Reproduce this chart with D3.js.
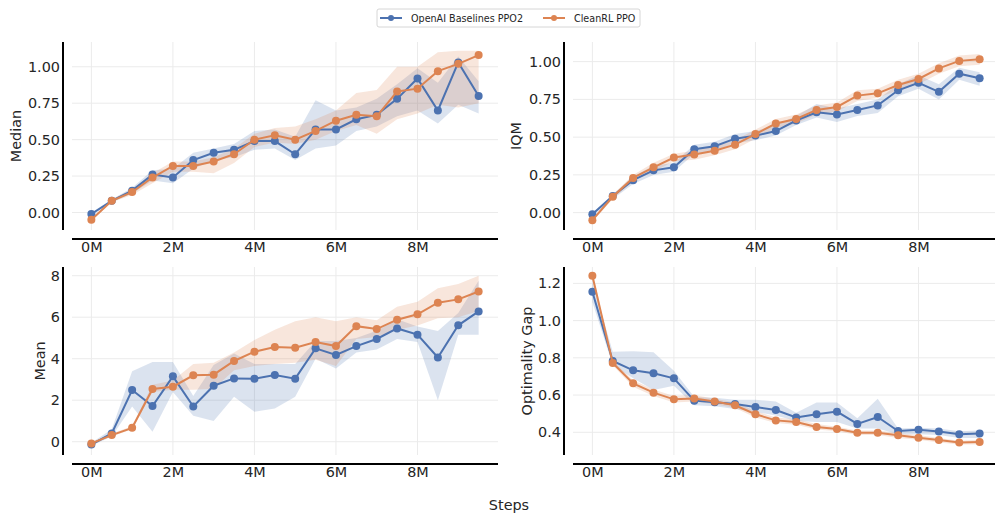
<!DOCTYPE html>
<html>
<head>
<meta charset="utf-8">
<script src="https://cdn.jsdelivr.net/npm/d3@7"></script>
<style>
  body { margin: 0; background: #fff; }
  svg { font-family: "DejaVu Sans", sans-serif; }
</style>
</head>
<body>
<div id="container"></div>
<script>
// steps in millions
const steps = [0, 0.5, 1, 1.5, 2, 2.5, 3, 3.5, 4, 4.5, 5, 5.5, 6, 6.5, 7, 7.5, 8, 8.5, 9, 9.5];
const seriesNames = ["OpenAI Baselines PPO2", "CleanRL PPO"];
const xTicks = [0, 2, 4, 6, 8];

// Median
const medianPPO2   = [-0.01, 0.08, 0.15, 0.26, 0.24, 0.36, 0.41, 0.43, 0.49, 0.49, 0.40, 0.57, 0.57, 0.64, 0.67, 0.78, 0.92, 0.70, 1.03, 0.80];
const medianPPO2Lo = [-0.02, 0.07, 0.13, 0.22, 0.20, 0.30, 0.36, 0.38, 0.43, 0.44, 0.36, 0.44, 0.46, 0.56, 0.59, 0.66, 0.70, 0.61, 0.74, 0.68];
const medianPPO2Hi = [0.00, 0.09, 0.17, 0.29, 0.30, 0.41, 0.44, 0.47, 0.56, 0.57, 0.52, 0.77, 0.70, 0.72, 0.78, 0.88, 0.99, 0.89, 1.07, 0.90];
const medianClean   = [-0.05, 0.08, 0.14, 0.24, 0.32, 0.32, 0.35, 0.40, 0.50, 0.53, 0.50, 0.56, 0.63, 0.67, 0.66, 0.83, 0.85, 0.97, 1.02, 1.08];
const medianCleanLo = [-0.06, 0.07, 0.12, 0.20, 0.28, 0.28, 0.27, 0.34, 0.45, 0.48, 0.47, 0.50, 0.56, 0.60, 0.54, 0.64, 0.68, 0.74, 0.72, 0.75];
const medianCleanHi = [-0.04, 0.09, 0.16, 0.27, 0.35, 0.35, 0.38, 0.44, 0.54, 0.58, 0.59, 0.64, 0.70, 0.82, 0.84, 1.00, 1.00, 1.10, 1.11, 1.11];

// IQM
const iqmPPO2   = [-0.01, 0.11, 0.215, 0.28, 0.30, 0.42, 0.44, 0.49, 0.51, 0.54, 0.61, 0.665, 0.65, 0.68, 0.71, 0.81, 0.86, 0.80, 0.92, 0.89];
const iqmPPO2Lo = [-0.02, 0.09, 0.19, 0.25, 0.27, 0.39, 0.41, 0.46, 0.48, 0.51, 0.58, 0.63, 0.60, 0.64, 0.66, 0.77, 0.82, 0.75, 0.88, 0.84];
const iqmPPO2Hi = [0.00, 0.12, 0.24, 0.31, 0.33, 0.45, 0.47, 0.52, 0.54, 0.58, 0.64, 0.72, 0.69, 0.72, 0.75, 0.85, 0.91, 0.85, 0.96, 0.93];
const iqmClean   = [-0.05, 0.105, 0.23, 0.30, 0.365, 0.385, 0.41, 0.45, 0.52, 0.59, 0.62, 0.68, 0.70, 0.775, 0.79, 0.845, 0.885, 0.955, 1.005, 1.015];
const iqmCleanLo = [-0.06, 0.09, 0.21, 0.27, 0.34, 0.35, 0.38, 0.42, 0.49, 0.56, 0.59, 0.65, 0.67, 0.74, 0.76, 0.81, 0.85, 0.92, 0.97, 0.98];
const iqmCleanHi = [-0.04, 0.12, 0.25, 0.33, 0.39, 0.41, 0.44, 0.48, 0.55, 0.62, 0.65, 0.71, 0.73, 0.81, 0.82, 0.88, 0.92, 0.99, 1.04, 1.05];

// Mean
const meanPPO2   = [-0.14, 0.40, 2.49, 1.72, 3.15, 1.70, 2.70, 3.05, 3.04, 3.21, 3.04, 4.50, 4.18, 4.61, 4.95, 5.46, 5.16, 4.06, 5.61, 6.28];
const meanPPO2Lo = [-0.20, 0.25, 1.70, 0.48, 2.40, 1.25, 1.00, 2.17, 1.45, 1.60, 2.17, 4.00, 3.53, 4.30, 4.45, 4.95, 4.80, 2.00, 5.15, 5.15];
const meanPPO2Hi = [-0.05, 0.60, 3.40, 3.84, 3.84, 2.20, 3.70, 4.25, 3.75, 3.75, 3.75, 4.85, 4.85, 5.00, 5.35, 5.90, 5.55, 5.33, 6.20, 7.76];
const meanClean   = [-0.08, 0.32, 0.67, 2.54, 2.65, 3.20, 3.23, 3.89, 4.34, 4.56, 4.53, 4.80, 4.61, 5.57, 5.43, 5.88, 6.14, 6.70, 6.86, 7.24];
const meanCleanLo = [-0.12, 0.25, 0.60, 2.40, 2.50, 2.50, 2.55, 3.45, 3.65, 3.75, 3.80, 3.95, 3.65, 4.95, 5.05, 5.40, 5.60, 5.95, 6.00, 6.30];
const meanCleanHi = [-0.04, 0.40, 0.75, 2.75, 2.95, 3.74, 3.80, 4.30, 4.90, 5.40, 5.80, 6.00, 5.80, 6.00, 5.85, 6.50, 6.75, 7.40, 7.60, 8.00];

// Optimality Gap
const gapPPO2   = [1.155, 0.783, 0.733, 0.717, 0.690, 0.570, 0.561, 0.552, 0.536, 0.520, 0.480, 0.497, 0.511, 0.445, 0.482, 0.407, 0.413, 0.404, 0.389, 0.393];
const gapPPO2Lo = [1.10, 0.76, 0.69, 0.627, 0.65, 0.545, 0.54, 0.525, 0.51, 0.49, 0.46, 0.455, 0.455, 0.42, 0.42, 0.39, 0.39, 0.385, 0.37, 0.37];
const gapPPO2Hi = [1.21, 0.833, 0.835, 0.83, 0.73, 0.59, 0.585, 0.575, 0.575, 0.565, 0.505, 0.56, 0.56, 0.475, 0.58, 0.42, 0.425, 0.42, 0.405, 0.41];
const gapClean   = [1.241, 0.772, 0.663, 0.613, 0.577, 0.581, 0.565, 0.545, 0.497, 0.464, 0.455, 0.429, 0.418, 0.398, 0.398, 0.384, 0.371, 0.359, 0.345, 0.348];
const gapCleanLo = [1.22, 0.76, 0.645, 0.595, 0.56, 0.565, 0.55, 0.53, 0.48, 0.45, 0.44, 0.415, 0.405, 0.385, 0.385, 0.37, 0.36, 0.345, 0.335, 0.335];
const gapCleanHi = [1.26, 0.785, 0.68, 0.63, 0.595, 0.60, 0.58, 0.56, 0.515, 0.48, 0.47, 0.445, 0.43, 0.41, 0.41, 0.395, 0.385, 0.37, 0.355, 0.36];

const colors = ["#4c72b0", "#dd8452"];

const panels = [
  { label: "Median", left: 72, top: 42, domain: [-0.12, 1.17], ticks: [0, 0.25, 0.5, 0.75, 1.0], fmt: ".2f", labelX: 16,
    series: [[medianPPO2, medianPPO2Lo, medianPPO2Hi], [medianClean, medianCleanLo, medianCleanHi]] },
  { label: "IQM", left: 573, top: 42, domain: [-0.115, 1.13], ticks: [0, 0.25, 0.5, 0.75, 1.0], fmt: ".2f", labelX: 516,
    series: [[iqmPPO2, iqmPPO2Lo, iqmPPO2Hi], [iqmClean, iqmCleanLo, iqmCleanHi]] },
  { label: "Mean", left: 72, top: 267, domain: [-0.64, 8.42], ticks: [0, 2, 4, 6, 8], fmt: "d", labelX: 40,
    series: [[meanPPO2, meanPPO2Lo, meanPPO2Hi], [meanClean, meanCleanLo, meanCleanHi]] },
  { label: "Optimality Gap", left: 573, top: 267, domain: [0.278, 1.288], ticks: [0.4, 0.6, 0.8, 1.0, 1.2], fmt: ".1f", labelX: 527,
    series: [[gapPPO2, gapPPO2Lo, gapPPO2Hi], [gapClean, gapCleanLo, gapCleanHi]] }
];

const W = 995, H = 519;
const pw = 426, ph = 188, off = 9; // plot size, spine offset
const fs = 14.4;

const svg = d3.select("#container").append("svg").attr("width", W).attr("height", H);

panels.forEach(p => {
  const g = svg.append("g").attr("transform", `translate(${p.left}, ${p.top})`);
  const x = d3.scaleLinear().domain([-0.475, 9.975]).range([0, pw]);
  const y = d3.scaleLinear().domain(p.domain).range([ph, 0]);

  // grid
  g.append("g").selectAll("line").data(xTicks).enter().append("line")
    .attr("x1", d => x(d)).attr("x2", d => x(d)).attr("y1", 0).attr("y2", ph)
    .attr("stroke", "#ebebeb").attr("stroke-width", 1);
  g.append("g").selectAll("line").data(p.ticks).enter().append("line")
    .attr("x1", 0).attr("x2", pw).attr("y1", d => y(d)).attr("y2", d => y(d))
    .attr("stroke", "#ebebeb").attr("stroke-width", 1);

  // bands
  p.series.forEach((s, i) => {
    const rows = steps.map((st, k) => [st, s[1][k], s[2][k]]);
    const area = d3.area().x(d => x(d[0])).y0(d => y(d[1])).y1(d => y(d[2]));
    g.append("path").datum(rows).attr("d", area).attr("fill", colors[i]).attr("fill-opacity", 0.2);
  });

  // lines and markers
  p.series.forEach((s, i) => {
    const rows = steps.map((st, k) => [st, s[0][k]]);
    const line = d3.line().x(d => x(d[0])).y(d => y(d[1]));
    g.append("path").datum(rows).attr("d", line).attr("fill", "none")
      .attr("stroke", colors[i]).attr("stroke-width", 2);
    g.append("g").selectAll("circle").data(rows).enter().append("circle")
      .attr("cx", d => x(d[0])).attr("cy", d => y(d[1])).attr("r", 4).attr("fill", colors[i]);
  });

  // axes (offset spines)
  const xAxis = d3.axisBottom(x).tickValues(xTicks).tickFormat(d => d + "M").tickSize(0).tickPadding(3);
  const xg = g.append("g").attr("transform", `translate(0, ${ph + off})`).call(xAxis);
  xg.select(".domain").attr("stroke", "#000").attr("stroke-width", 2).attr("d", `M0,0H${pw}`);

  const yAxis = d3.axisLeft(y).tickValues(p.ticks).tickFormat(d3.format(p.fmt)).tickSize(0).tickPadding(3);
  const yg = g.append("g").attr("transform", `translate(${-off}, 0)`).call(yAxis);
  yg.select(".domain").attr("stroke", "#000").attr("stroke-width", 2).attr("d", `M0,0V${ph}`);

  svg.selectAll(".tick text").attr("font-size", fs).attr("fill", "#262626").attr("font-family", "DejaVu Sans");

  svg.append("text").attr("transform", `translate(${p.labelX}, ${p.top + ph / 2}) rotate(-90)`)
    .attr("text-anchor", "middle").attr("dominant-baseline", "central")
    .attr("font-size", fs).attr("fill", "#262626").text(p.label);
});

svg.append("text").attr("x", 509).attr("y", 510).attr("text-anchor", "middle")
  .attr("font-size", fs).attr("fill", "#262626").text("Steps");

// legend
const leg = svg.append("g").attr("transform", "translate(377, 9)");
leg.append("rect").attr("width", 263).attr("height", 18).attr("rx", 2)
  .attr("fill", "#fff").attr("stroke", "#cccccc").attr("stroke-width", 0.8);
const legX = [3, 166];
seriesNames.forEach((name, i) => {
  const li = leg.append("g").attr("transform", `translate(${legX[i]}, 9)`);
  li.append("line").attr("x1", 0).attr("x2", 22).attr("stroke", colors[i]).attr("stroke-width", 2);
  li.append("circle").attr("cx", 11).attr("r", 3).attr("fill", colors[i]);
  li.append("text").attr("x", 31).attr("y", 0).attr("dominant-baseline", "central")
    .attr("font-size", 9.6).attr("fill", "#262626").text(name);
});
</script>
</body>
</html>
